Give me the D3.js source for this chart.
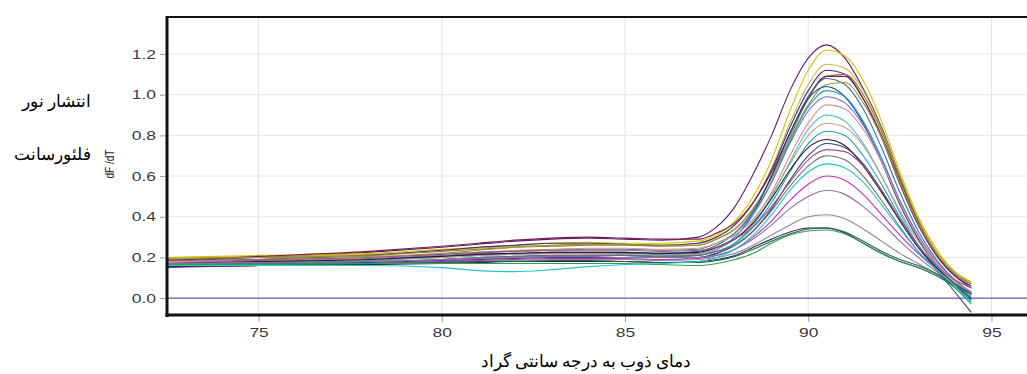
<!DOCTYPE html>
<html>
<head>
<meta charset="utf-8">
<script src="https://cdn.jsdelivr.net/npm/d3@7"></script>
<style>
  body { margin: 0; background: #fff; }
  svg { display: block; }
</style>
</head>
<body>
<div id="chart"></div>
<script>
// melt curve temperatures (°C)
const temps = [72.5, 75, 78, 80, 81, 82, 83, 84, 85, 86, 87, 87.5, 88, 88.5, 89, 89.5, 90, 90.5, 91, 91.5, 92, 92.5, 93, 93.5, 94, 94.45];

const xTicks = [75, 80, 85, 90, 95];
const yTicks = [0.0, 0.2, 0.4, 0.6, 0.8, 1.0, 1.2];

const seriesColors = [
  '#5b1f6e', '#d4c400', '#c2b83a', '#4b2a7a', '#8b7a3a', '#7a1f4a', '#3a6ea5', '#9a9a30', '#1f3a8a',
  '#2aa0c8', '#7070c0', '#d090a0', '#40b8c8', '#c0a080', '#20a0b0', '#202020', '#304080', '#a05080',
  '#707070', '#c030c0', '#9070a0', '#8a8a98', '#203050', '#2f5a50', '#30a050', '#20c8c8'
];

// dF/dT readings, one row per well
const seriesValues = [
  [0.18, 0.2, 0.225, 0.25, 0.265, 0.28, 0.29, 0.295, 0.29, 0.285, 0.3, 0.35, 0.45, 0.61, 0.8, 1.02, 1.18, 1.245, 1.18, 1.03, 0.84, 0.6, 0.38, 0.22, 0.12, 0.07],
  [0.2, 0.21, 0.22, 0.24, 0.25, 0.26, 0.27, 0.275, 0.27, 0.27, 0.28, 0.31, 0.38, 0.5, 0.68, 0.92, 1.12, 1.22, 1.19, 1.07, 0.87, 0.62, 0.4, 0.24, 0.13, 0.08],
  [0.195, 0.205, 0.215, 0.235, 0.245, 0.255, 0.26, 0.265, 0.265, 0.26, 0.27, 0.3, 0.36, 0.47, 0.64, 0.86, 1.05, 1.15, 1.13, 1.02, 0.83, 0.6, 0.39, 0.23, 0.13, 0.075],
  [0.17, 0.19, 0.21, 0.235, 0.25, 0.26, 0.27, 0.27, 0.265, 0.26, 0.27, 0.3, 0.36, 0.47, 0.63, 0.84, 1.02, 1.12, 1.1, 0.98, 0.79, 0.56, 0.36, 0.21, 0.11, 0.06],
  [0.19, 0.2, 0.21, 0.23, 0.24, 0.25, 0.255, 0.26, 0.26, 0.255, 0.26, 0.29, 0.34, 0.44, 0.59, 0.79, 0.98, 1.09, 1.1, 1.0, 0.82, 0.59, 0.38, 0.22, 0.12, 0.07],
  [0.185, 0.205, 0.23, 0.255, 0.27, 0.285, 0.295, 0.3, 0.295, 0.29, 0.29, 0.32, 0.37, 0.47, 0.62, 0.81, 0.99, 1.09, 1.09, 0.98, 0.8, 0.58, 0.37, 0.21, 0.11, 0.05],
  [0.16, 0.175, 0.19, 0.205, 0.215, 0.22, 0.225, 0.225, 0.225, 0.22, 0.23, 0.26, 0.32, 0.43, 0.6, 0.81, 0.99, 1.08, 1.05, 0.93, 0.74, 0.52, 0.33, 0.19, 0.09, 0.02],
  [0.195, 0.2, 0.205, 0.22, 0.235, 0.25, 0.26, 0.265, 0.265, 0.26, 0.26, 0.29, 0.34, 0.44, 0.59, 0.78, 0.95, 1.05, 1.06, 0.96, 0.79, 0.57, 0.37, 0.22, 0.12, 0.07],
  [0.16, 0.17, 0.18, 0.19, 0.2, 0.205, 0.21, 0.21, 0.21, 0.205, 0.21, 0.24, 0.3, 0.42, 0.6, 0.81, 0.98, 1.04, 0.99, 0.86, 0.67, 0.46, 0.29, 0.16, 0.06, -0.01],
  [0.165, 0.175, 0.185, 0.2, 0.21, 0.215, 0.22, 0.22, 0.22, 0.215, 0.22, 0.25, 0.3, 0.41, 0.57, 0.77, 0.94, 1.02, 0.99, 0.87, 0.69, 0.48, 0.3, 0.17, 0.07, 0.0],
  [0.175, 0.185, 0.195, 0.21, 0.22, 0.23, 0.235, 0.24, 0.24, 0.235, 0.24, 0.27, 0.32, 0.42, 0.57, 0.76, 0.92, 0.99, 0.96, 0.85, 0.68, 0.48, 0.31, 0.18, 0.09, 0.03],
  [0.175, 0.18, 0.19, 0.2, 0.21, 0.215, 0.22, 0.22, 0.215, 0.21, 0.215, 0.24, 0.29, 0.38, 0.52, 0.7, 0.86, 0.95, 0.93, 0.83, 0.67, 0.47, 0.3, 0.17, 0.08, 0.02],
  [0.155, 0.16, 0.165, 0.175, 0.18, 0.185, 0.19, 0.19, 0.19, 0.19, 0.2, 0.22, 0.27, 0.36, 0.5, 0.67, 0.83, 0.9, 0.87, 0.76, 0.6, 0.42, 0.26, 0.14, 0.05, -0.02],
  [0.18, 0.19, 0.2, 0.215, 0.225, 0.235, 0.24, 0.245, 0.245, 0.24, 0.245, 0.27, 0.31, 0.39, 0.51, 0.66, 0.8, 0.86, 0.84, 0.75, 0.6, 0.43, 0.28, 0.16, 0.08, 0.03],
  [0.16, 0.165, 0.17, 0.18, 0.19, 0.2, 0.205, 0.21, 0.21, 0.205, 0.21, 0.23, 0.27, 0.35, 0.47, 0.62, 0.76, 0.82, 0.8, 0.7, 0.56, 0.4, 0.26, 0.15, 0.07, 0.01],
  [0.17, 0.18, 0.19, 0.205, 0.215, 0.22, 0.225, 0.225, 0.225, 0.22, 0.225, 0.25, 0.29, 0.37, 0.49, 0.63, 0.74, 0.78, 0.75, 0.65, 0.52, 0.38, 0.25, 0.15, 0.07, 0.02],
  [0.16, 0.17, 0.175, 0.185, 0.19, 0.195, 0.2, 0.2, 0.2, 0.2, 0.2, 0.22, 0.26, 0.33, 0.44, 0.58, 0.7, 0.76, 0.74, 0.66, 0.53, 0.38, 0.25, 0.14, 0.03, -0.07],
  [0.185, 0.19, 0.2, 0.215, 0.225, 0.23, 0.235, 0.235, 0.235, 0.23, 0.235, 0.25, 0.29, 0.35, 0.45, 0.57, 0.68, 0.73, 0.72, 0.65, 0.53, 0.39, 0.26, 0.16, 0.09, 0.05],
  [0.165, 0.17, 0.18, 0.19, 0.2, 0.205, 0.21, 0.21, 0.21, 0.205, 0.21, 0.23, 0.26, 0.33, 0.43, 0.55, 0.65, 0.7, 0.68, 0.6, 0.48, 0.35, 0.23, 0.14, 0.07, 0.03],
  [0.15, 0.16, 0.17, 0.18, 0.185, 0.19, 0.195, 0.195, 0.195, 0.19, 0.195, 0.21, 0.24, 0.3, 0.38, 0.48, 0.56, 0.6, 0.58, 0.51, 0.41, 0.31, 0.22, 0.14, 0.07, 0.02],
  [0.17, 0.175, 0.18, 0.19, 0.195, 0.2, 0.205, 0.205, 0.2, 0.2, 0.2, 0.21, 0.24, 0.29, 0.36, 0.44, 0.5, 0.53, 0.51, 0.45, 0.37, 0.28, 0.2, 0.13, 0.07, 0.03],
  [0.16, 0.165, 0.17, 0.175, 0.18, 0.185, 0.19, 0.19, 0.19, 0.185, 0.19, 0.2, 0.22, 0.26, 0.31, 0.36, 0.4, 0.41, 0.39, 0.34, 0.28, 0.22, 0.17, 0.12, 0.07, 0.03],
  [0.155, 0.16, 0.165, 0.17, 0.175, 0.18, 0.18, 0.18, 0.18, 0.175, 0.18, 0.19, 0.21, 0.25, 0.29, 0.325, 0.345, 0.345, 0.32, 0.27, 0.22, 0.18, 0.15, 0.11, 0.06, 0.0],
  [0.16, 0.165, 0.17, 0.175, 0.18, 0.18, 0.185, 0.185, 0.18, 0.175, 0.175, 0.185, 0.205, 0.24, 0.28, 0.315, 0.34, 0.345, 0.325, 0.28, 0.23, 0.19, 0.16, 0.12, 0.07, 0.02],
  [0.165, 0.165, 0.17, 0.17, 0.17, 0.17, 0.17, 0.17, 0.17, 0.165, 0.16, 0.17, 0.19, 0.22, 0.27, 0.31, 0.33, 0.335, 0.315, 0.27, 0.22, 0.18, 0.15, 0.11, 0.05, -0.03],
  [0.16, 0.16, 0.16, 0.15, 0.135, 0.13, 0.14, 0.155, 0.165, 0.17, 0.18, 0.2, 0.24, 0.31, 0.41, 0.53, 0.62, 0.66, 0.64, 0.57, 0.46, 0.34, 0.23, 0.14, 0.06, -0.02]
];

const width = 1027;
const height = 374;
const plot = { left: 167, right: 1027, top: 17, bottom: 315 };

const svg = d3.select('#chart')
  .append('svg')
  .attr('width', width)
  .attr('height', height);

const x = d3.scaleLinear()
  .domain([72.5, 95.97])
  .range([plot.left, plot.right]);

const y = d3.scaleLinear()
  .domain([-0.083, 1.382])
  .range([plot.bottom, plot.top]);

// grid
svg.append('g')
  .selectAll('line')
  .data(xTicks)
  .enter()
  .append('line')
  .attr('x1', d => x(d)).attr('x2', d => x(d))
  .attr('y1', plot.top).attr('y2', plot.bottom)
  .attr('stroke', '#e2e2e6')
  .attr('stroke-width', 1);

svg.append('g')
  .selectAll('line')
  .data(yTicks.filter(d => d > 0))
  .enter()
  .append('line')
  .attr('x1', plot.left).attr('x2', plot.right)
  .attr('y1', d => y(d)).attr('y2', d => y(d))
  .attr('stroke', '#e6e6ea')
  .attr('stroke-width', 1);

// zero line
svg.append('line')
  .attr('x1', plot.left).attr('x2', plot.right)
  .attr('y1', y(0)).attr('y2', y(0))
  .attr('stroke', '#3434a0')
  .attr('stroke-width', 1);

// curves
const line = d3.line()
  .x((d, i) => x(temps[i]))
  .y(d => y(d))
  .curve(d3.curveMonotoneX);

svg.append('g')
  .selectAll('path')
  .data(seriesValues)
  .enter()
  .append('path')
  .attr('d', d => line(d))
  .attr('fill', 'none')
  .attr('stroke', (d, i) => seriesColors[i])
  .attr('stroke-width', 1.1);

// axes
const yAxis = d3.axisLeft(y)
  .tickValues(yTicks)
  .tickSize(5)
  .tickPadding(4)
  .tickFormat(d3.format('.1f'));

const xAxis = d3.axisBottom(x)
  .tickValues(xTicks)
  .tickSize(6)
  .tickPadding(6)
  .tickFormat(d3.format('d'));

const gy = svg.append('g')
  .attr('transform', `translate(${plot.left - 2},0)`)
  .call(yAxis);

const gx = svg.append('g')
  .attr('transform', `translate(0,${plot.bottom + 1})`)
  .call(xAxis);

// the source image is stretched sideways, so tick labels are widened a bit
const stretch = 1.4;
[gy, gx].forEach(g => {
  g.select('.domain').remove();
  g.selectAll('.tick line').attr('stroke', '#999');
  g.selectAll('.tick text')
    .attr('fill', '#3a3a3a')
    .style('font-family', 'Liberation Sans, Arial, sans-serif')
    .style('font-size', '12.5px')
    .each(function() {
      const t = d3.select(this);
      const tx = +t.attr('x') || 0;
      t.attr('x', 0).attr('transform', `translate(${tx},0) scale(${stretch},1)`);
    });
});

// frame
svg.append('line')
  .attr('x1', plot.left - 1).attr('x2', plot.right)
  .attr('y1', plot.top).attr('y2', plot.top)
  .attr('stroke', '#111').attr('stroke-width', 2);
svg.append('line')
  .attr('x1', plot.left).attr('x2', plot.left)
  .attr('y1', plot.top - 1).attr('y2', plot.bottom + 2)
  .attr('stroke', '#111').attr('stroke-width', 3);
svg.append('line')
  .attr('x1', plot.left - 1.5).attr('x2', plot.right)
  .attr('y1', plot.bottom).attr('y2', plot.bottom)
  .attr('stroke', '#111').attr('stroke-width', 3);

// labels
svg.append('text')
  .attr('transform', 'translate(114,164) rotate(-90) scale(1,1.3)')
  .attr('text-anchor', 'middle')
  .style('font-family', 'Liberation Sans, Arial, sans-serif')
  .style('font-size', '10px')
  .attr('fill', '#222')
  .text('dF /dT');

const faFont = 'Liberation Serif, DejaVu Serif, serif';

svg.append('text')
  .attr('x', 91).attr('y', 107)
  .attr('text-anchor', 'end')
  .style('font-family', faFont)
  .style('font-size', '17px')
  .text('انتشار نور');

svg.append('text')
  .attr('x', 91).attr('y', 160)
  .attr('text-anchor', 'end')
  .style('font-family', faFont)
  .style('font-size', '17px')
  .text('فلئورسانت');

svg.append('text')
  .attr('x', 586).attr('y', 367)
  .attr('text-anchor', 'middle')
  .style('font-family', faFont)
  .style('font-size', '16.5px')
  .text('دمای ذوب به درجه سانتی گراد');
</script>
</body>
</html>
